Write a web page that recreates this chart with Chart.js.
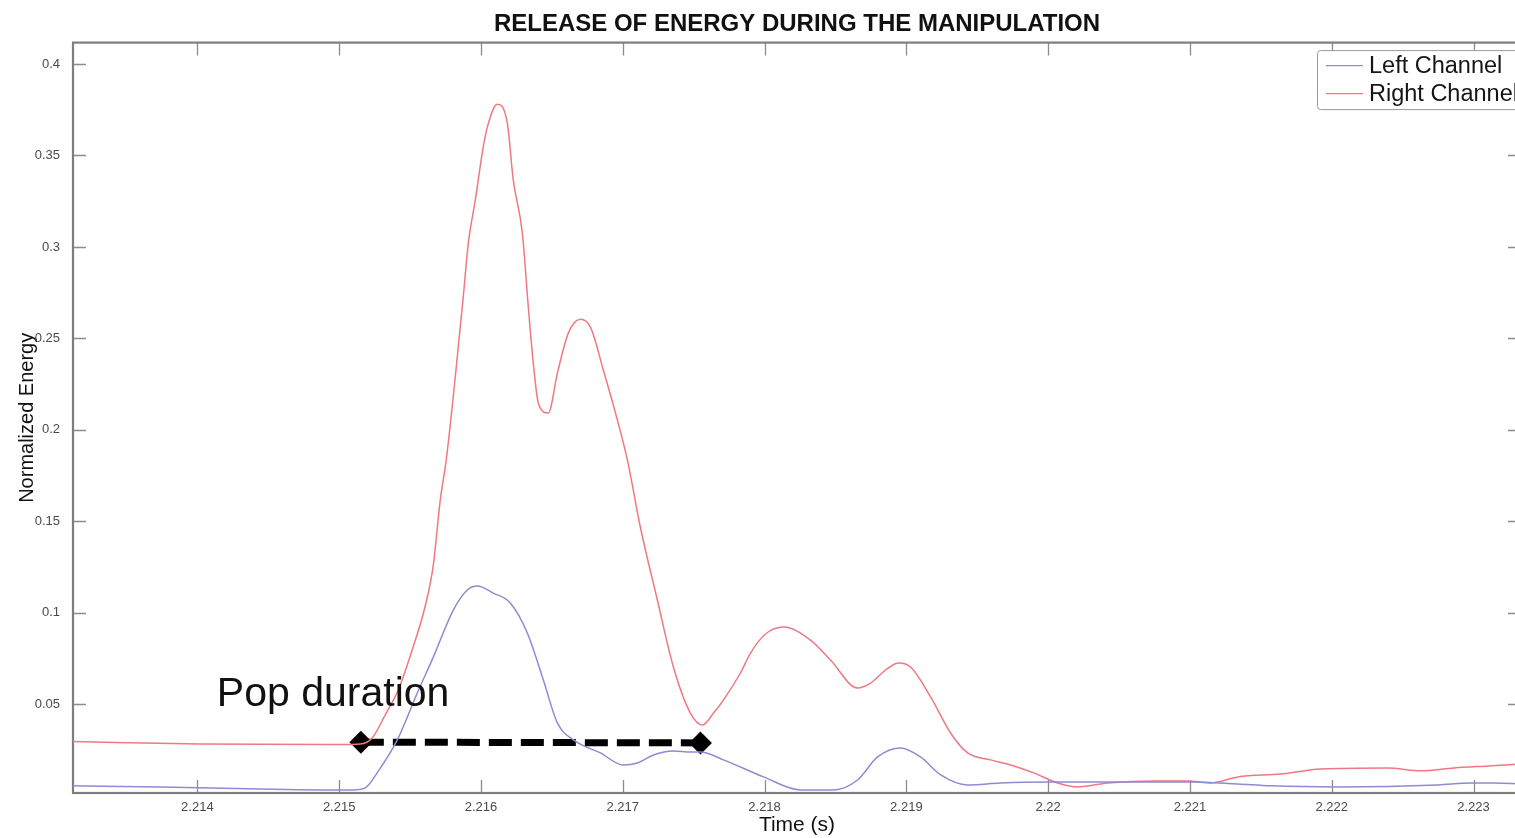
<!DOCTYPE html>
<html>
<head>
<meta charset="utf-8">
<script src="https://cdn.jsdelivr.net/npm/chart.js@4.4.1/dist/chart.umd.min.js"></script>
<style>
  html, body { margin: 0; padding: 0; background: #fff; overflow: hidden; }
  #wrap { width: 1521px; height: 838px; }
  #c { width: 1521px; height: 838px; }
</style>
</head>
<body>
<div id="wrap"><canvas id="c" width="1521" height="838"></canvas></div>
<script>
// Left channel energy (time in s, normalized energy)
const leftTime = [2.213123, 2.213737, 2.214443, 2.214915, 2.215099, 2.215184, 2.215268, 2.215410, 2.215551,
  2.215664, 2.215805, 2.215904, 2.215974, 2.216087, 2.216207, 2.216327, 2.216440, 2.216539, 2.216652,
  2.216842, 2.217004, 2.217103, 2.217216, 2.217357, 2.217477, 2.217548, 2.217710, 2.217993, 2.218254,
  2.218487, 2.218656, 2.218797, 2.218959, 2.219100, 2.219242, 2.219432, 2.219665, 2.220018, 2.220300,
  2.221006, 2.221338, 2.221570, 2.222043, 2.222749, 2.222982, 2.223144, 2.223335];
const leftEnergy = [0.0054, 0.0048, 0.0037, 0.0032, 0.0032, 0.0043, 0.0125, 0.0305, 0.0562,
  0.0758, 0.1015, 0.1125, 0.1146, 0.1108, 0.1054, 0.0890, 0.0633, 0.0398, 0.0305,
  0.0234, 0.0168, 0.0179, 0.0223, 0.0245, 0.0239, 0.0239, 0.0196, 0.0103, 0.0032,
  0.0032, 0.0086, 0.0212, 0.0261, 0.0212, 0.0114, 0.0059, 0.0070, 0.0075, 0.0075,
  0.0075, 0.0064, 0.0054, 0.0048, 0.0059, 0.0070, 0.0070, 0.0064];

// Right channel energy
const rightTime = [2.213123, 2.214019, 2.215007, 2.215148, 2.215233, 2.215325, 2.215417, 2.215515, 2.215607,
  2.215664, 2.215713, 2.215755, 2.215819, 2.215875, 2.215911, 2.215960, 2.216016, 2.216045, 2.216115,
  2.216186, 2.216228, 2.216292, 2.216334, 2.216369, 2.216405, 2.216475, 2.216539, 2.216616, 2.216701,
  2.216772, 2.216863, 2.216962, 2.217033, 2.217124, 2.217244, 2.217357, 2.217477, 2.217562, 2.217640,
  2.217710, 2.217830, 2.217901, 2.218007, 2.218134, 2.218324, 2.218465, 2.218656, 2.218748, 2.218853,
  2.218945, 2.219030, 2.219171, 2.219312, 2.219432, 2.219594, 2.219736, 2.219898, 2.220067, 2.220208,
  2.220420, 2.220745, 2.220985, 2.221147, 2.221338, 2.221641, 2.221923, 2.222396, 2.222629, 2.222862,
  2.223102, 2.223335];
const rightEnergy = [0.0296, 0.0283, 0.0280, 0.0283, 0.0316, 0.0442, 0.0578, 0.0797, 0.1037,
  0.1261, 0.1616, 0.1835, 0.2289, 0.2726, 0.3021, 0.3256, 0.3545, 0.3655, 0.3780,
  0.3677, 0.3365, 0.3075, 0.2671, 0.2365, 0.2146, 0.2092, 0.2310, 0.2529, 0.2605,
  0.2562, 0.2327, 0.2054, 0.1835, 0.1469, 0.1070, 0.0704, 0.0452, 0.0387, 0.0452,
  0.0523, 0.0671, 0.0780, 0.0884, 0.0922, 0.0851, 0.0742, 0.0589, 0.0616, 0.0687,
  0.0726, 0.0704, 0.0540, 0.0343, 0.0234, 0.0196, 0.0168, 0.0125, 0.0070, 0.0048,
  0.0070, 0.0081, 0.0081, 0.0070, 0.0103, 0.0119, 0.0146, 0.0152, 0.0136, 0.0152,
  0.0163, 0.0174];

// Pop duration marker (start / end)
const popTime = [2.215153, 2.217548];
const popLevel = [0.0293, 0.0289];

// Axis ticks and ranges
const xTicks = [2.214, 2.215, 2.216, 2.217, 2.218, 2.219, 2.22, 2.221, 2.222, 2.223];
const yTicks = [0.05, 0.1, 0.15, 0.2, 0.25, 0.3, 0.35, 0.4];
const xRange = [2.213123, 2.2233347];
const yRange = [0.0015, 0.4117];

const seriesNames = ['Left Channel', 'Right Channel'];
const seriesColors = ['#8c8cd2', '#f07882'];

const toPoints = (xs, ys) => xs.map((t, i) => ({ x: t, y: ys[i] }));
const fmt = v => String(Number(v.toFixed(4)));
const FONT = '"Liberation Sans", Arial, sans-serif';

// Box frame with inward tick marks on all four sides
const framePlugin = {
  id: 'frame',
  beforeDatasetsDraw(chart) {
    const { ctx, chartArea: a, scales: { x, y } } = chart;
    const len = 13;
    ctx.save();
    ctx.strokeStyle = '#8c8c8c';
    ctx.lineWidth = 1.3;
    ctx.beginPath();
    xTicks.forEach(v => {
      const px = Math.round(x.getPixelForValue(v)) + 0.5;
      ctx.moveTo(px, a.bottom); ctx.lineTo(px, a.bottom - len);
      ctx.moveTo(px, a.top); ctx.lineTo(px, a.top + len);
    });
    yTicks.forEach(v => {
      const py = Math.round(y.getPixelForValue(v)) + 0.5;
      ctx.moveTo(a.left, py); ctx.lineTo(a.left + len, py);
      ctx.moveTo(a.right, py); ctx.lineTo(a.right - len, py);
    });
    ctx.stroke();
    ctx.lineWidth = 2.2;
    ctx.strokeStyle = '#7e7e7e';
    ctx.strokeRect(a.left, a.top, a.right - a.left, a.bottom - a.top);
    ctx.restore();
  }
};

// "Pop duration" caption above the marker
const popLabelPlugin = {
  id: 'popLabel',
  afterDatasetsDraw(chart) {
    const { ctx, scales: { x, y } } = chart;
    const px = x.getPixelForValue(popTime[0]);
    const py = y.getPixelForValue(popLevel[0]);
    ctx.save();
    ctx.font = '41px ' + FONT;
    ctx.fillStyle = '#111';
    ctx.textBaseline = 'alphabetic';
    ctx.fillText('Pop duration', px - 144, py - 36);
    ctx.restore();
  }
};

// Legend box in the upper-right corner of the plot
const legendBoxPlugin = {
  id: 'legendBox',
  afterDraw(chart) {
    const { ctx, chartArea: a } = chart;
    const bx = a.right - 204, by = a.top + 7.5, bw = 230, bh = 59;
    ctx.save();
    ctx.fillStyle = '#fff';
    ctx.strokeStyle = '#9a9a9a';
    ctx.lineWidth = 1;
    ctx.beginPath();
    ctx.roundRect(bx + 0.5, by + 0.5, bw, bh, 3);
    ctx.fill();
    ctx.stroke();
    ctx.font = '23.5px ' + FONT;
    ctx.textBaseline = 'middle';
    ctx.fillStyle = '#151515';
    seriesNames.forEach((name, i) => {
      const ly = by + 15.5 + i * 28;
      ctx.strokeStyle = seriesColors[i];
      ctx.lineWidth = 1.3;
      ctx.beginPath();
      ctx.moveTo(bx + 9, ly); ctx.lineTo(bx + 46, ly);
      ctx.stroke();
      ctx.fillText(name, bx + 52, ly + 1);
    });
    ctx.restore();
  }
};

new Chart(document.getElementById('c'), {
  type: 'line',
  data: {
    datasets: [
      {
        label: seriesNames[0],
        data: toPoints(leftTime, leftEnergy),
        borderColor: seriesColors[0],
        borderWidth: 1.5,
        pointRadius: 0,
        cubicInterpolationMode: 'monotone',
        fill: false
      },
      {
        label: seriesNames[1],
        data: toPoints(rightTime, rightEnergy),
        borderColor: seriesColors[1],
        borderWidth: 1.5,
        pointRadius: 0,
        cubicInterpolationMode: 'monotone',
        fill: false
      },
      {
        label: '',
        data: toPoints(popTime, popLevel),
        borderColor: '#000',
        backgroundColor: '#000',
        borderWidth: 7,
        borderDash: [23, 9],
        pointStyle: 'rectRot',
        pointRadius: 11.5,
        pointBorderWidth: 0,
        tension: 0
      }
    ]
  },
  options: {
    responsive: false,
    devicePixelRatio: 1,
    animation: false,
    events: [],
    layout: { padding: 0, autoPadding: false },
    plugins: {
      legend: { display: false },
      tooltip: { enabled: false },
      title: {
        display: true,
        fullSize: false,
        text: 'RELEASE OF ENERGY DURING THE MANIPULATION',
        color: '#111',
        font: { family: FONT, size: 24, weight: 'bold', lineHeight: 1.2 },
        padding: { top: 9.5, bottom: 4.3 }
      }
    },
    scales: {
      x: {
        type: 'linear',
        min: xRange[0],
        max: xRange[1],
        bounds: 'data',
        grid: { display: false },
        border: { display: false },
        afterBuildTicks: s => { s.ticks = xTicks.map(v => ({ value: v })); },
        afterFit: s => { s.height = 45; s.paddingLeft = 0; s.paddingRight = 0; },
        ticks: {
          autoSkip: false,
          maxRotation: 0,
          padding: -1,
          color: '#4a4a4a',
          font: { family: FONT, size: 13, lineHeight: 1.2 },
          callback: v => fmt(v)
        },
        title: {
          display: true,
          text: 'Time (s)',
          color: '#111',
          font: { family: FONT, size: 21, lineHeight: 1.2 },
          padding: 0
        }
      },
      y: {
        type: 'linear',
        min: yRange[0],
        max: yRange[1],
        bounds: 'data',
        grid: { display: false },
        border: { display: false },
        afterBuildTicks: s => { s.ticks = yTicks.map(v => ({ value: v })); },
        afterFit: s => { s.width = 73; s.paddingTop = 0; s.paddingBottom = 0; },
        ticks: {
          autoSkip: false,
          padding: 5,
          color: '#4a4a4a',
          font: { family: FONT, size: 13, lineHeight: 1.2 },
          callback: v => fmt(v)
        },
        title: {
          display: true,
          text: 'Normalized Energy',
          color: '#111',
          font: { family: FONT, size: 20, lineHeight: 1.2 },
          padding: 15
        }
      }
    }
  },
  plugins: [framePlugin, popLabelPlugin, legendBoxPlugin]
});
</script>
</body>
</html>
